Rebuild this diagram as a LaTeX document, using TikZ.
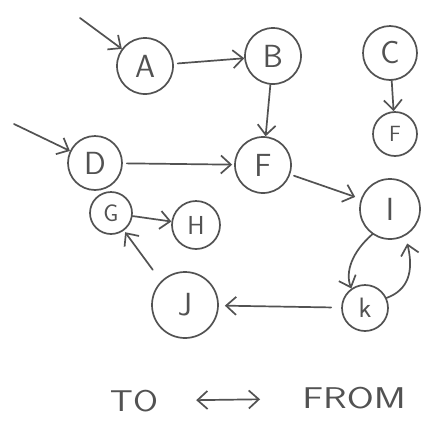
\documentclass[tikz,border=0pt]{standalone}
\usetikzlibrary{arrows.meta,decorations.pathmorphing}
\begin{document}
\begin{tikzpicture}[x=1pt,y=-1pt,
  pencil/.style={draw=black!68, line width=1.7pt, line cap=round, line join=round},
  letter/.style={text=black!68, font=\sffamily\fontsize{#1}{#1}\selectfont},
  nd/.style={pencil, circle, inner sep=0pt, minimum size=#1},
  barb/.tip={Straight Barb[length=10pt,width=18pt,line width=1.7pt]},
  arr/.style={pencil, -barb},
]
\useasboundingbox[fill=white] (0,0) rectangle (439,421);

% nodes
\node[nd=56pt, letter=32] (A)  at (145,66)  {A};
\node[nd=56pt, letter=32] (B)  at (273,56)  {B};
\node[nd=54pt, letter=32] (C)  at (390,53)  {C};
\node[nd=44pt, letter=22] (F2) at (395,134) {F};
\node[nd=56pt, letter=32] (F1) at (263,165) {F};
\node[nd=54pt, letter=32] (D)  at (95,163)  {D};
\node[nd=42pt, letter=24] (G)  at (111,213) {G};
\node[nd=48pt, letter=26] (H)  at (196,225) {H};
\node[nd=60pt, letter=32] (I)  at (390,209) {I};
\node[nd=46pt, letter=28] (K)  at (365,308) {k};
\node[nd=66pt, letter=32] (J)  at (185,305) {J};

% free ends of the incoming arrows
\coordinate (inA) at (80,18);
\coordinate (inD) at (14,124);

% connectors
\draw[arr] (inA) -- (A);
\draw[arr] (inD) -- (D);
\draw[arr, shorten <=4pt] (A) -- (B);
\draw[arr] (B) -- (F1);
\draw[arr] (C) -- (F2);
\draw[arr, shorten <=4pt, shorten >=2pt] (D) -- (F1);
\draw[arr] (G) -- (H);
\draw[arr, shorten <=4pt, shorten >=6pt] (F1) -- (I);
\draw[arr] (I.235) .. controls (352,252) and (345,272) .. (K.125);
\draw[arr, shorten >=8pt] (K.25) .. controls (408,290) and (414,272) .. (I.300);
\draw[arr, shorten <=10pt, shorten >=6pt] (K) -- (J);
\draw[arr, shorten <=14pt, shorten >=2pt] (J.135) -- (G);

% legend
\node[letter=30, inner sep=0pt] (to)   at (134,401) {\scalebox{1.2}[1]{TO}};
\node[letter=30, inner sep=0pt] (from) at (354,398) {\scalebox{1.3}[1]{FROM}};
\draw[pencil, barb-barb, shorten <=38pt, shorten >=42pt] (to) -- (from);
\end{tikzpicture}
\end{document}
